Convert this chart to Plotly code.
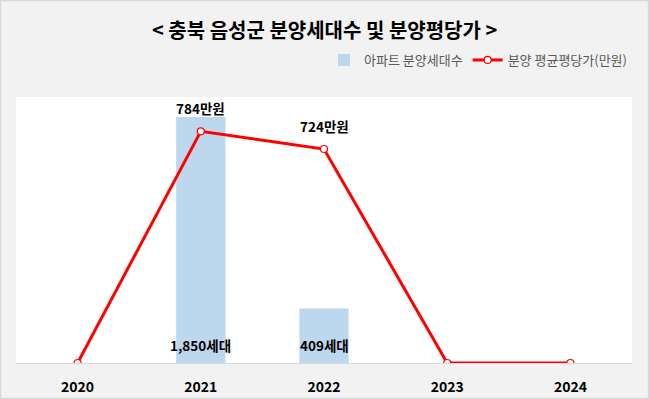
import plotly.graph_objects as go

years = ["2020", "2021", "2022", "2023", "2024"]
units = [0, 1850, 409, 0, 0]
price = [0, 784, 724, 0, 0]
unit_labels = ["", "1,850세대", "409세대", "", ""]
price_labels = ["", "784만원", "724만원", "", ""]

FONT = "Noto Sans CJK KR, Malgun Gothic, sans-serif"

fig = go.Figure()
fig.add_trace(go.Bar(
    x=years, y=units, name="아파트 분양세대수",
    marker=dict(color="#bdd7ee", line=dict(width=0)),
    width=0.4, yaxis="y",
))
fig.add_trace(go.Scatter(
    x=years, y=price, name="분양 평균평당가(만원)",
    mode="lines+markers",
    line=dict(color="#ff0000", width=3),
    marker=dict(size=7, color="white", line=dict(color="#ff0000", width=1.2)),
    yaxis="y2",
))

annotations = []
for i, (v, t) in enumerate(zip(units, unit_labels)):
    if t:
        annotations.append(dict(x=i, y=0, xref="x", yref="y", text=f"<b>{t}</b>",
                                showarrow=False, yanchor="bottom", yshift=6,
                                font=dict(family=FONT, size=13.5, color="black")))
for i, (v, t) in enumerate(zip(price, price_labels)):
    if t:
        annotations.append(dict(x=i, y=v, xref="x", yref="y2", text=f"<b>{t}</b>",
                                showarrow=False, yanchor="bottom", yshift=11,
                                font=dict(family=FONT, size=13.5, color="black")))

annotations.append(dict(text="<b>< 충북 음성군 분양세대수 및 분양평당가 ></b>",
                        xref="paper", yref="paper", x=(324 - 16) / 616, y=1, yshift=68,
                        yanchor="middle", showarrow=False,
                        font=dict(family=FONT, size=20, color="black")))

fig.update_layout(
    width=649, height=399,
    margin=dict(l=16, r=17, t=97, b=36, autoexpand=False),
    paper_bgcolor="#f2f2f2", plot_bgcolor="white",
    font=dict(family=FONT),
    showlegend=True,
    legend=dict(orientation="h", x=1, xanchor="right", y=1.0 + 22 / 266, yanchor="bottom",
                font=dict(family=FONT, size=13, color="#595959"),
                bgcolor="rgba(0,0,0,0)", itemwidth=30, tracegroupgap=0),
    xaxis=dict(type="category", range=[-0.5, len(years) - 0.5], autorange=False,
               automargin=False,
               showgrid=False, showline=True, linecolor="#d9d9d9", linewidth=1,
               ticks="outside", ticklen=11, tickcolor="rgba(0,0,0,0)",
               tickfont=dict(family=FONT, size=14, color="black", weight="bold"),
               fixedrange=True),
    yaxis=dict(range=[0, 2000], visible=False, showgrid=False, zeroline=False),
    yaxis2=dict(range=[0, 900], overlaying="y", side="right", visible=False,
                showgrid=False, zeroline=False),
    annotations=annotations,
)
# outer border
fig.add_shape(type="rect", xref="paper", yref="paper",
              x0=-15.5 / 616, x1=1 + 16.5 / 616, y0=-35.5 / 266, y1=1 + 96.5 / 266,
              line=dict(color="#d9d9d9", width=1.5), layer="below")

fig.write_html("out.html", config={"displayModeBar": False},
               post_script="document.body.style.margin='0';")
